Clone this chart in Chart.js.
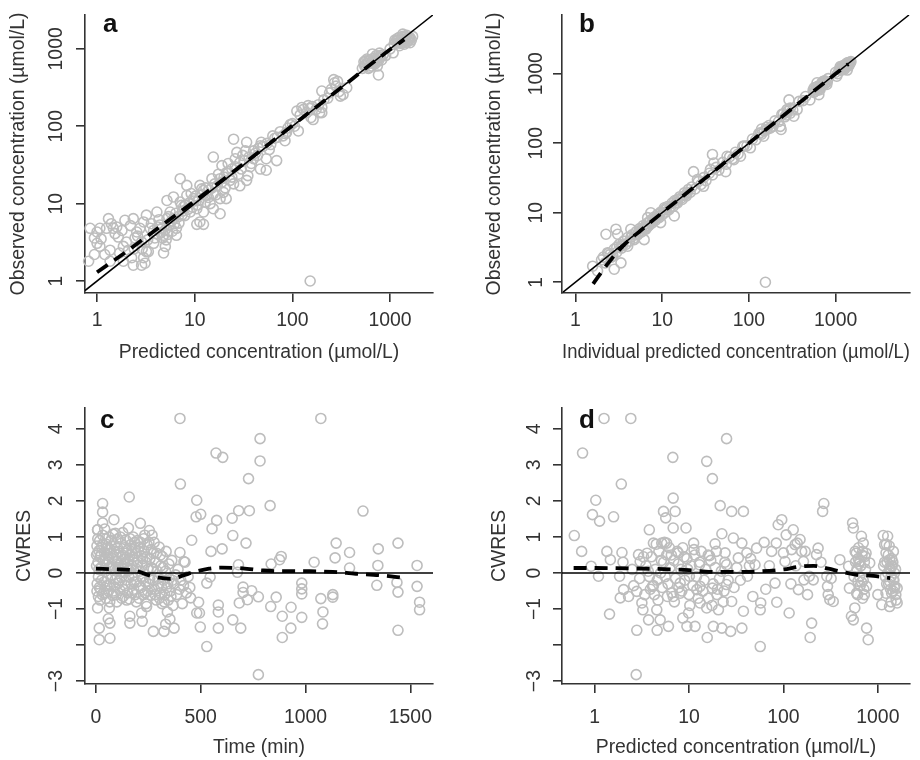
<!DOCTYPE html>
<html>
<head>
<meta charset="utf-8">
<title>Goodness-of-fit plots</title>
<script src="https://cdn.jsdelivr.net/npm/chart.js@4.4.1/dist/chart.umd.min.js"></script>
<style>
  body { margin: 0; background: #fff; }
  #wrap { position: relative; width: 920px; height: 760px; }
  canvas { position: absolute; }
</style>
</head>
<body>
<div id="wrap">
  <canvas id="panelA" width="460" height="380" style="left:0;top:0"></canvas>
  <canvas id="panelB" width="460" height="380" style="left:460px;top:0"></canvas>
  <canvas id="panelC" width="460" height="380" style="left:0;top:380px"></canvas>
  <canvas id="panelD" width="460" height="380" style="left:460px;top:380px"></canvas>
</div>
<script>
// tick values
const concTicks = [1, 10, 100, 1000];
const timeTicks = [0, 500, 1000, 1500];
const cwresTicks = [-3, -2, -1, 0, 1, 2, 3, 4];

// a: observed vs population predicted [pred, obs]
const aPoints = [
  [0.82,1.8],[0.85,4.8],[0.94,3.6],[0.94,2.2],[1.0,4.3],[1.0,3.07],[1.07,4.8],[1.07,2.8],[1.25,4.8],[1.31,6.4],
  [1.36,1.8],[1.36,2.5],[1.47,4.8],[1.53,4.1],[1.59,5.0],[1.65,3.7],[1.86,1.8],[1.86,2.8],[1.93,6.1],[2.1,2.5],
  [2.26,2.0],[2.35,1.6],[2.35,6.4],[2.45,3.6],[2.55,4.3],[2.75,4.8],[2.86,3.2],[2.86,1.6],[3.0,5.8],[3.0,2.0],
  [3.1,1.7],[3.2,7.1],[3.2,2.4],[3.35,2.4],[3.5,4.8],[3.8,3.07],[4.1,4.1],[4.1,7.8],[4.4,5.3],[4.8,3.9],
  [4.8,2.3],[5.0,2.8],[5.2,6.4],[5.2,11.0],[5.6,7.8],[6.06,12.2],[6.06,6.4],[6.5,4.8],[6.5,3.9],[7.1,21],
  [7.1,10.5],[7.4,7.1],[7.7,9.1],[8.3,17.2],[8.3,12.8],[9.0,7.8],[9.7,11.6],[10.5,8.6],[10.5,5.4],[11.3,17.2],
  [11.3,5.8],[12.3,14.8],[12.3,7.8],[12.3,5.4],[13.3,12.8],[14.4,10],[15,21],[15.5,40],[15.5,13.4],[15.5,8.6],
  [17,17],[18.2,21],[18.2,11.6],[18.2,7.4],[19,31],[19.7,14],[21,25],[21,11.6],[23,20],[25,68],
  [25,18],[27,46],[29,34],[29,17],[31,42],[34,62],[34,20],[35,23],[40,48],[40,38],
  [47,56],[47,28],[54,38],[54,27],[63,75],[69,36],[84,65],[87,83],[115,87],[152,1.0],
  [4.5,4.2],[5.0,4.6],[5.5,5.2],[4.7,3.6],[5.3,4.0],[5.8,6.0],[6.2,5.5],[4.2,5.0],[3.8,4.5],[6.8,6.8],
  [7.5,8.0],[8.0,9.5],[8.8,10.2],[9.5,9.0],[10.2,12.5],[11,11],[12,13],[13,16],[14,15],[16,18],
  [20,22],[22,26],[24,28],[26,30],[28,24],[32,36],[36,40],[38,33],[42,45],[45,52],
  [50,55],[55,60],[60,58],[70,72],[80,75],[90,95],[100,108],[95,105],[105,100],
  [1.1,3.5],[1.2,2.2],[1.4,5.5],[1.7,2.3],[1.8,4.5],[2.0,3.2],[2.2,5.2],[2.4,2.6],[2.6,3.8],[2.9,2.6],
  [3.3,3.4],[3.6,5.5],[3.9,3.6],[4.3,6.2],[4.6,4.8],[5.1,3.4],[5.4,6.8],[5.9,4.4],[6.4,7.5],[6.9,5.6],
  [7.3,9.5],[7.9,7.0],[8.5,8.4],[9.2,13.5],[9.8,10.8],[10.8,9.6],[11.8,15.5],[12.8,10.5],[13.8,12],[15,16],
  [16.5,13],[17.5,24],[19,19],[20.5,16],[22,33],[24,22],[26,38],[30,28],[33,48],[37,30],
  [44,42],[48,62],[58,50],[66,70],[75,85],[85,80],
  [111,157],[130,165],[150,170],[160,180],[175,165],[140,150],[120,140],[155,130],[185,190],[200,175],
  [210,220],[230,230],[163,122],[200,150],[125,175],[145,185],[190,150],
  [265,400],[270,365],[310,245],[330,257],[360,315],[200,285],[280,330],[250,300],[300,280],[240,270],[290,380],
  [520,560],[560,620],[600,700],[640,660],[680,760],[720,820],[760,700],[800,780],[850,840],[620,580],
  [700,640],[580,740],[660,860],[740,600],[540,680],[780,880],[820,720],[760,460],[1075,890],[900,820],
  [550,600],[590,650],[630,720],[650,600],[690,700],[710,740],[730,680],[600,560],[670,650],[750,760],[790,820],[560,700],
  [1100,1150],[1200,1300],[1300,1250],[1400,1400],[1500,1350],[1600,1200],[1250,1100],[1350,1450],[1450,1300],[1150,1250],
  [1550,1400],[1300,1350],[1400,1150],[1200,1200],[1480,1500],[1650,1300],[1700,1450],[1350,1550],[1000,1000],
  [1120,1300],[1180,1350],[1230,1400],[1280,1180],[1320,1300],[1380,1250],[1420,1350],[1470,1200],[1520,1280],[1580,1320],
  [1260,1250],[1340,1200],[1440,1450],[1600,1400]
];
const aLoess = [[1,1.3],[2,2.4],[4,4.6],[10,10.8],[30,31],[100,102],[300,300],[1000,980],[1400,1320]];

// b: observed vs individual predicted [ipred, obs]
const bPoints = [
  [2.25,4.9],[2.93,5.8],[3.07,4.9],[4.35,5.8],[1.58,1.7],[1.8,1.45],[2.8,1.54],[3.35,1.9],[2.35,2.66],[2.7,2.4],
  [3.35,3.3],[4.0,3.3],[4.76,4.1],[6.2,4.1],[6.5,5.8],[6.8,8.5],[7.4,10],[8.1,8.0],[9.6,7.2],[10.6,11.8],
  [13.8,9.0],[15,15.5],[19.5,19.4],[23,39],[25.5,30],[30,24],[36,42],[39.5,52],[38,69],[54,39],
  [56,65],[67,58],[80,65],[104,86],[88,91],[135,141],[148,126],[162,158],[190,175],[230,175],
  [235,158],[290,420],[275,305],[330,245],[360,305],[505,420],[660,590],[610,740],[720,780],[790,700],
  [565,625],[640,500],[1030,920],[1240,1270],[1450,1420],[1360,1130],[1130,1270],[155,1.0],
  [2.0,2.1],[2.2,1.9],[2.4,2.6],[2.6,2.3],[2.8,3.0],[3.0,2.7],[3.2,3.5],[3.4,3.1],[3.6,3.9],[3.8,3.5],
  [4.0,4.4],[4.2,3.9],[4.5,4.8],[4.7,4.3],[5.0,5.3],[5.2,4.8],[5.5,5.9],[5.8,5.3],[6.0,6.5],[6.3,5.8],
  [6.6,7.0],[7.0,6.5],[7.3,7.8],[7.6,7.1],[8.0,8.6],[8.4,7.8],[8.8,9.4],[9.2,8.5],[9.6,10.2],[10,9.3],
  [10.5,11.0],[11,10.2],[11.5,12.3],[12,11.1],[13,13.8],[13.5,12.4],[14,15.0],[15,13.8],[16,17.0],[17,15.5],
  [18,19.3],[19,17.4],[20,21.5],[21,19.6],[22,23.5],[24,22],[26,28],[28,25.5],[30,32],[32,29],
  [35,37],[38,35],[42,45],[45,41],[50,53],[55,50],[60,64],[65,60],[70,74],[75,70],
  [85,90],[95,92],[110,115],[120,112],[130,138],[140,135],[170,180],[180,170],[200,210],[220,205],
  [250,265],[270,255],[300,320],[320,300],[380,400],[420,410],[450,470],[550,580],[580,560],[600,640],
  [640,610],[680,700],[700,680],[750,790],[800,760],[820,850],[1000,1050],[1050,1000],[1100,1150],[1150,1120],
  [1200,1260],[1250,1200],[1300,1350],[1350,1300],[1400,1450],[1450,1380],[1500,1500],[1300,1250],[1200,1150],[1250,1320],
  [1180,1200],[1220,1300],[1280,1280],[1320,1380],[1380,1350],[1420,1300],[1480,1450],[1350,1420],[1260,1150],[1160,1250],
  [560,540],[590,600],[620,660],[650,620],[680,650],[710,730],[740,700],[770,750],[620,580],[700,760],
  [240,260],[260,240],[280,290],[300,270],[160,170],[150,150],[140,160],[175,165],
  [5.3,5.0],[5.6,5.5],[6.1,6.0],[6.4,6.3],[6.7,6.2],[7.1,7.3],[7.8,7.6],[8.2,8.2],[9.0,8.9],[9.4,9.7],
  [11.2,11.5],[12.5,12.0],[14.5,14.0],[16.5,16.2],[18.5,18.0],[3.0,3.2],[3.5,3.4],[4.4,4.5],[2.5,2.5],[2.1,2.3]
];
const bLoess = [[1.6,0.95],[2.4,1.9],[3.6,3.4],[5.7,5.6],[10,10],[30,30],[100,100],[300,300],[1000,1000],[1400,1380]];

// c: CWRES vs time [min, cwres]
const cPoints = [
  [401,4.29],[1073,4.29],[573,3.33],[605,3.21],[783,3.73],[783,3.11],[728,2.62],[403,2.47],[159,2.11],[32,1.93],
  [32,1.69],[481,2.02],[831,1.87],[1274,1.72],[681,1.73],[732,1.73],[478,1.56],[500,1.63],[576,1.46],[650,1.52],
  [86,1.48],[8,1.2],[32,1.39],[554,1.23],[653,1.04],[716,0.83],[457,0.91],[1146,0.83],[1347,0.67],[1441,0.83],
  [1210,0.57],[602,0.67],[549,0.6],[401,0.57],[420,0.32],[1141,0.42],[1041,0.3],[836,0.25],[876,0.37],[884,0.46],
  [1210,0.14],[1345,0.21],[1532,0.21],[1340,-0.34],[1436,-0.26],[1441,-0.53],[1532,-0.37],[1544,-0.81],[1544,-1.02],[1441,-1.59],
  [1130,-0.6],[1130,-0.67],[1083,-1.08],[1073,-0.71],[1081,-1.41],[982,-0.28],[982,-0.44],[982,-0.58],[982,-1.23],[931,-0.95],
  [930,-1.53],[889,-1.2],[889,-1.79],[860,-0.67],[834,-0.93],[775,-0.66],[775,-2.82],[743,-0.49],[723,-0.74],[702,-0.39],
  [702,-0.54],[684,-0.83],[653,-1.3],[691,-1.53],[584,-0.89],[584,-1.08],[584,-1.53],[490,-0.81],[481,-1.11],[494,-1.11],
  [498,-1.5],[529,-2.04],[529,-0.28],[545,-0.11],[452,-0.69],[680,0.23],[675,0.02],[274,-1.62],[325,-1.62],[373,-1.53],
  [353,-1.28],[341,-1.08],[333,-1.42],[218,-1.11],[221,-1.34],[162,-1.2],[162,-1.39],[67,-1.81],[16,-1.85],[16,-1.53],
  [59,-1.27],[67,-1.39],[8,-0.97],[64,-0.97],[242,-0.93],
  [5,0.75],[8,0.55],[10,0.3],[12,-0.1],[15,0.62],[18,0.9],[20,0.45],[22,-0.45],[25,0.15],[28,0.72],
  [30,-0.6],[32,1.05],[35,0.35],[38,-0.25],[40,0.58],[42,1.22],[45,0.05],[48,-0.7],[50,0.8],[52,0.25],
  [55,-0.15],[58,0.48],[60,-0.5],[62,1.0],[65,0.68],[68,-0.32],[70,0.12],[72,0.9],[75,-0.05],[78,0.4],
  [80,-0.62],[82,1.08],[85,0.2],[88,-0.38],[90,0.75],[92,-0.18],[95,0.52],[98,0.05],[100,-0.8],[102,0.32],
  [105,0.95],[108,-0.28],[110,0.6],[112,0.1],[115,-0.48],[118,0.82],[120,0.28],[122,-0.12],[125,0.45],[128,1.12],
  [130,-0.65],[132,0.02],[135,0.7],[138,-0.35],[140,0.38],[142,0.92],[145,-0.2],[148,0.15],[150,0.62],[152,-0.55],
  [155,1.25],[158,0.08],[160,-0.72],[162,0.5],[165,0.78],[168,-0.3],[170,0.22],[172,0.65],[175,-0.08],[178,1.0],
  [180,-0.45],[182,0.35],[185,0.85],[188,-0.6],[190,0.12],[192,0.55],[195,-0.25],[198,0.9],[200,0.3],[205,-0.7],
  [208,0.72],[210,0.05],[212,1.38],[215,-0.4],[218,0.48],[220,0.2],[225,-0.15],[228,0.95],[230,0.6],[235,-0.55],
  [238,0.3],[240,-0.85],[245,0.78],[248,0.1],[250,-0.3],[255,1.18],[258,0.4],[262,-0.62],[265,0.15],[268,1.05],
  [272,-0.2],[275,0.55],[280,-0.45],[285,0.3],[288,-0.75],[292,0.05],[298,-0.35],[302,0.72],[305,-0.55],[310,0.2],
  [315,-0.85],[318,0.45],[322,-0.2],[328,-0.6],[332,0.05],[338,-0.4],[345,-0.75],[350,-0.15],[355,-0.5],[362,0.35],
  [368,-0.9],[372,-0.3],[380,-0.05],[385,-0.6],[392,0.1],[398,-0.45],[405,-0.2],[412,-0.85],[418,-0.35],[425,0.3],
  [432,-0.55],[440,-0.1],[448,-0.4],[5,-0.5],[12,-0.65],[20,-0.75],[8,1.2],[3,0.5],
  [3,0.2],[6,-0.3],[9,0.95],[14,0.1],[17,-0.4],[24,0.5],[27,-0.2],[33,0.8],[37,-0.55],[44,0.4],
  [47,0.95],[53,-0.35],[57,0.7],[63,0.3],[66,-0.8],[73,0.55],[77,0.15],[83,-0.5],[87,0.6],[93,1.1],
  [97,-0.6],[103,0.7],[107,0.15],[113,-0.2],[117,1.0],[123,-0.7],[127,0.5],[133,-0.45],[137,0.25],[143,0.55],
  [147,-0.75],[153,0.35],[157,-0.1],[163,0.95],[167,0.1],[173,-0.55],[177,0.45],[183,-0.25],[187,0.7],[193,-0.8],
  [197,0.2],[203,0.6],[207,-0.35],[213,0.85],[217,-0.1],[223,0.4],[227,-0.6],[233,1.05],[237,-0.25],[243,0.45],
  [247,-0.5],[253,0.85],[257,-0.15],[263,0.65],[267,-0.45],[273,0.1],[278,0.85],[283,-0.6],[290,0.55],[296,-0.15],
  [303,-0.7],[308,0.5],[313,-0.4],[320,0.15],[326,-0.8],[335,0.6],[342,-0.3],[348,0.25],[358,-0.65],[365,-0.2]
];
const cLoess = [[0,0.12],[100,0.1],[180,0.08],[240,-0.04],[300,-0.13],[360,-0.16],[420,-0.06],[470,0.03],[540,0.12],
  [600,0.15],[700,0.13],[800,0.07],[900,0.05],[1020,0.05],[1130,0.03],[1240,-0.02],[1350,-0.06],[1480,-0.14]];

// d: CWRES vs population predicted [pred, cwres]
const dPoints = [
  [1.26,4.29],[2.42,4.29],[0.746,3.33],[6.74,3.21],[15.4,3.1],[17.7,2.62],[25,3.73],[1.92,2.47],[1.03,2.02],[0.95,1.62],
  [1.13,1.44],[1.59,1.56],[0.61,1.04],[0.73,0.6],[0.92,0.19],[1.1,-0.09],[1.35,0.6],[1.47,0.37],[1.44,-1.14],[1.95,0.57],
  [1.84,-0.09],[1.87,-0.69],[2.03,-0.46],[2.29,-0.65],[2.8,-1.59],[2.76,-2.82],[2.8,-0.51],[2.92,0.51],[3.04,0.32],[3.17,-0.83],
  [3.25,-1.02],[3.73,-1.3],[3.8,1.2],[4.2,0.83],[4.1,-0.37],[4.56,-1.02],[4.6,-1.59],[4.95,-1.3],[5.15,0.83],[5.37,1.71],
  [5.67,1.53],[5.8,0.83],[6.06,-1.48],[6.8,-0.65],[6.8,2.08],[7.13,1.71],[6.8,1.25],[7.7,0.56],[8.06,-0.28],[8.06,-0.56],
  [8.6,-1.25],[9.3,1.25],[9.5,-1.48],[9.9,-1.11],[10.1,-0.09],[11.2,0.83],[11.6,-1.48],[12.1,-0.46],[12.9,0.23],[13.1,-0.37],
  [13.1,-0.83],[15.4,-0.97],[15.6,-1.79],[16.5,0.48],[17.7,-0.42],[18.1,-1.48],[18.9,0.81],[19.8,-0.6],[20.5,-1.02],[21.4,1.87],
  [22.3,1.09],[22.3,-1.53],[24.1,0.56],[25,0.23],[25,-0.32],[27.6,-1.62],[28.3,1.71],[29.5,0.97],[28.3,-0.79],[33.3,0.42],
  [36.3,0.83],[36.3,-1.53],[37.7,1.71],[37.7,-1.06],[41,0.56],[41.6,-0.09],[43.6,0.2],[47.4,-0.65],[50,0.23],[52,0.69],
  [56.8,-2.04],[56.8,-1.02],[57.5,-0.83],[62.5,0.85],[71,0.2],[81.5,-0.28],[85,-0.81],[84,0.83],[88,1.34],[96,1.48],
  [100,0.56],[104,0.32],[107,1.06],[115,-1.11],[122,0.65],[127,1.2],[133,0.79],[140,0.83],[144,-0.46],[156,0.6],
  [150,0.93],[163,0.32],[165,-0.19],[188,-0.09],[199,-1.39],[192,-1.79],[207,-0.19],[224,0.51],[233,0.69],[260,1.71],
  [268,1.93],[288,-0.09],[293,-0.37],[298,-0.6],[310,-0.74],[337,-0.79],[396,0.37],[490,0.19],[540,1.39],[550,1.25],
  [500,-0.42],[525,-1.2],[550,-1.3],[570,-0.97],[595,-0.56],[615,-0.23],[640,0.32],[670,1.02],[700,0.83],[730,0.46],
  [760,-1.53],[790,-1.85],[760,-0.37],[820,0.28],[1000,-0.6],[1100,-0.88],[1140,1.04],[1270,1.02],[1180,0.79],[1220,0.56],
  [1330,0.37],[1400,0.19],[1460,-0.19],[1520,-0.37],[1600,-0.83],[1330,-0.93],[1220,-0.56],[1270,0],[1460,0.6],[1400,-0.56],
  [1600,-0.42],[1330,-0.23],
  [3.5,0.2],[3.8,-0.1],[4.0,0.45],[4.2,-0.35],[4.4,0.1],[4.6,-0.2],[4.8,0.6],[5.0,0.0],[5.2,-0.4],[5.4,0.3],
  [5.6,-0.1],[5.8,0.5],[6.0,-0.3],[6.3,0.15],[6.6,-0.55],[6.9,0.35],[7.2,-0.15],[7.5,0.6],[7.8,-0.4],[8.2,0.1],
  [8.6,0.7],[9.0,-0.2],[9.5,0.4],[10,-0.6],[10.5,0.2],[11,-0.35],[11.5,0.5],[12,-0.1],[13,0.3],[14,-0.5],
  [15,0.1],[16,-0.7],[17,0.35],[18,-0.3],[19,0.15],[20,-0.45],[22,0.05],[23,-0.8],[24,0.3],[26,-0.2],
  [4.5,0.8],[5.5,0.85],[6.2,0.7],[3.6,0.55],[3.9,-0.45],[4.3,-0.6],
  [580,0.3],[600,0.1],[620,0.4],[640,-0.1],[660,0.2],[680,0.5],[700,-0.2],[720,0.3],[740,0.1],[610,-0.6],
  [650,-0.35],[690,0.6],[710,-0.45],[590,0.55],[630,0.25],[670,-0.25],[1150,0.2],[1200,-0.1],[1250,0.3],[1300,-0.3],
  [1350,0.1],[1400,0.4],[1450,-0.5],[1500,0.0],[1550,-0.6],[1380,-0.8],[1230,0.8],[1320,0.75],[1420,0.2],[1480,-0.2],[1360,-0.45],
  [2.0,0.3],[2.5,0.1],[2.6,-0.35],[3.0,-0.15],[3.3,0.45],[3.4,-0.6],[3.7,0.05],[4.7,-0.75],[5.1,0.35],[5.9,-0.65],
  [6.5,0.5],[7.0,-0.8],[7.7,0.25],[8.4,-0.5],[8.9,0.45],[9.7,0.1],[10.2,-0.9],[11.3,0.65],[12.5,-0.7],[13.5,0.6],
  [14.5,-0.2],[16,0.5],[17.5,-0.9],[19.5,0.6],[21,-0.15],[23.5,-0.5],[30,-0.4],[32,0.15],[35,-0.2],[45,0.4],
  [65,-0.45],[75,0.6],[120,-0.3],[135,0.2],[170,0.6],[180,-0.6],[250,0.3],[320,-0.15],[560,-0.1],[575,0.6],
  [625,0.7],[690,-0.7],[720,-0.6],[750,0.55],[1180,0.3],[1240,-0.3],[1290,0.5],[1330,0.15],[1380,-0.1],[1440,0.3],
  [1490,-0.4],[1540,0.1],[1560,-0.75]
];
const dLoess = [[0.6,0.14],[1,0.14],[3.5,0.12],[10,0.08],[15,0.04],[20,0.03],[30,0.03],[50,0.04],[100,0.1],
  [150,0.18],[210,0.2],[300,0.12],[400,0.04],[600,-0.05],[900,-0.08],[1350,-0.14]];

document.addEventListener('DOMContentLoaded', () => {
    const FONT = "'Liberation Sans', Arial, Helvetica, sans-serif";
    const INK = '#333333';
    const FSIZE = 19.4;

    const toXY = arr => arr.map(p => ({ x: p[0], y: p[1] }));

    function fmt(v) {
        if (v === -2) return '';
        return v < 0 ? '\u2212' + Math.abs(v) : String(v);
    }

    // bold panel letter in the top-left corner
    const panelTag = {
        id: 'panelTag',
        afterDraw(chart, args, o) {
            const c = chart.ctx;
            c.save();
            c.font = 'bold 26px ' + FONT;
            c.fillStyle = '#111';
            c.textBaseline = 'alphabetic';
            c.fillText(o.text, o.x, o.y);
            c.restore();
        }
    };

    function axisOpts(a) {
        const left = a.position === 'left';
        return {
            type: a.type,
            position: a.position,
            min: a.min,
            max: a.max,
            afterFit: s => { if (left) s.width = a.size; else s.height = a.size; },
            afterBuildTicks: s => { s.ticks = a.ticks.map(v => ({ value: v })); },
            border: { display: true, color: INK, width: 1.6 },
            grid: { display: true, drawOnChartArea: false, drawTicks: true, tickLength: 9, color: INK, lineWidth: 1.6 },
            ticks: {
                autoSkip: false,
                padding: a.tickPad,
                color: INK,
                font: { family: FONT, size: FSIZE },
                minRotation: left ? 90 : 0,
                maxRotation: left ? 90 : 0,
                crossAlign: left ? 'center' : 'near',
                callback: v => fmt(v)
            },
            title: {
                display: true,
                text: a.title,
                color: INK,
                font: { family: FONT, size: FSIZE },
                padding: left ? { top: a.titlePad, bottom: 0 } : { top: 0, bottom: a.titlePad }
            }
        };
    }

    function makePanel(id, p) {
        const ctx = document.getElementById(id).getContext('2d');
        return new Chart(ctx, {
            type: 'scatter',
            data: {
                datasets: [
                    {
                        type: 'line', data: toXY(p.loess), borderColor: '#000', borderWidth: 3.8,
                        borderDash: [13, 8], pointRadius: 0, cubicInterpolationMode: 'monotone', fill: false, order: 1
                    },
                    {
                        type: 'line', data: toXY(p.ref), borderColor: '#000', borderWidth: 1.5,
                        pointRadius: 0, fill: false, order: 2
                    },
                    {
                        data: toXY(p.points), pointStyle: 'circle', pointRadius: 5, borderWidth: 1.6,
                        borderColor: '#bdbdbd', backgroundColor: 'rgba(0,0,0,0)', order: 3, clip: false
                    }
                ]
            },
            options: {
                responsive: false,
                animation: false,
                devicePixelRatio: 1,
                layout: { padding: { left: 0, top: p.padTop, right: p.padRight, bottom: 0 } },
                plugins: {
                    legend: { display: false },
                    tooltip: { enabled: false },
                    panelTag: { text: p.tag, x: p.tagX, y: p.tagY }
                },
                scales: { x: axisOpts(p.x), y: axisOpts(p.y) }
            },
            plugins: [panelTag]
        });
    }

    makePanel('panelA', {
        tag: 'a', tagX: 103, tagY: 32, padTop: 15, padRight: 27,
        points: aPoints, loess: aLoess, ref: [[0.753, 0.753], [2740, 2740]],
        x: { type: 'logarithmic', position: 'bottom', min: 0.753, max: 2750, size: 87, tickPad: 7, titlePad: 15.4,
             ticks: concTicks, title: 'Predicted concentration (\u00b5mol/L)' },
        y: { type: 'logarithmic', position: 'left', min: 0.745, max: 2740, size: 85, tickPad: -2, titlePad: 6.8,
             ticks: concTicks, title: 'Observed concentration (\u00b5mol/L)' }
    });

    makePanel('panelB', {
        tag: 'b', tagX: 119, tagY: 32, padTop: 15, padRight: 10,
        points: bPoints, loess: bLoess, ref: [[0.72, 0.72], [7000, 7000]],
        x: { type: 'logarithmic', position: 'bottom', min: 0.716, max: 7200, size: 87, tickPad: 7, titlePad: 15.4,
             ticks: concTicks, title: 'Individual predicted concentration (\u00b5mol/L)' },
        y: { type: 'logarithmic', position: 'left', min: 0.72, max: 7000, size: 102, tickPad: -5, titlePad: 23.4,
             ticks: concTicks, title: 'Observed concentration (\u00b5mol/L)' }
    });

    makePanel('panelC', {
        tag: 'c', tagX: 100, tagY: 48, padTop: 28, padRight: 27,
        points: cPoints, loess: cLoess, ref: [[-52, 0], [1608, 0]],
        x: { type: 'linear', position: 'bottom', min: -52, max: 1608, size: 76, tickPad: 13, titlePad: 0.4,
             ticks: timeTicks, title: 'Time (min)' },
        y: { type: 'linear', position: 'left', min: -3.08, max: 4.58, size: 85, tickPad: 8, titlePad: 13.4,
             ticks: cwresTicks, title: 'CWRES' }
    });

    makePanel('panelD', {
        tag: 'd', tagX: 119, tagY: 48, padTop: 28, padRight: 10,
        points: dPoints, loess: dLoess, ref: [[0.452, 0], [2190, 0]],
        x: { type: 'logarithmic', position: 'bottom', min: 0.452, max: 2190, size: 76, tickPad: 13, titlePad: 0.4,
             ticks: concTicks, title: 'Predicted concentration (\u00b5mol/L)' },
        y: { type: 'linear', position: 'left', min: -3.08, max: 4.58, size: 102, tickPad: 6.8, titlePad: 28.4,
             ticks: cwresTicks, title: 'CWRES' }
    });
});
</script>
</body>
</html>
